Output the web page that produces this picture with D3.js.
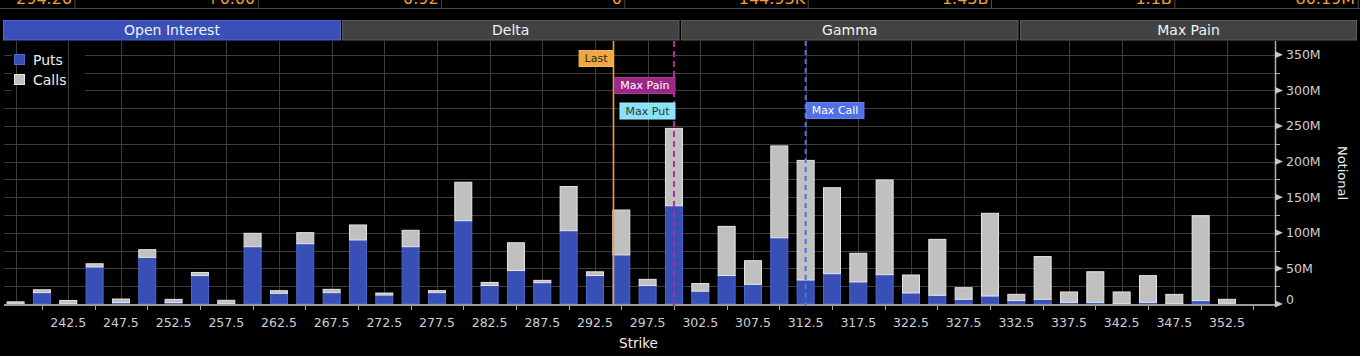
<!DOCTYPE html>
<html>
<head>
<meta charset="utf-8">
<script src="https://cdn.jsdelivr.net/npm/d3@7"></script>
<style>
  html, body { margin: 0; padding: 0; background: #000; }
  svg { display: block; }
  text { font-family: "DejaVu Sans", sans-serif; }
</style>
</head>
<body>
<svg id="chart" width="1360" height="356"></svg>
<script>
// ---------- data ----------
const strikes = [237.5, 240, 242.5, 245, 247.5, 250, 252.5, 255, 257.5, 260, 262.5, 265, 267.5, 270, 272.5, 275, 277.5, 280, 282.5, 285, 287.5, 290, 292.5, 295, 297.5, 300, 302.5, 305, 307.5, 310, 312.5, 315, 317.5, 320, 322.5, 325, 327.5, 330, 332.5, 335, 337.5, 340, 342.5, 345, 347.5, 350, 352.5];
const puts = [1, 16, 0.5, 52, 2, 65.5, 2, 40, 0.5, 80.5, 15, 84.7, 16, 90, 12.6, 80.5, 16, 117, 26, 47, 30, 103, 40, 69, 26, 138, 18, 40, 27.6, 93, 33.7, 42.6, 31, 41.2, 15.5, 12.2, 6.6, 11.2, 4.7, 6.6, 2.3, 2.3, 0.5, 2.3, 0.5, 4.7, 1];
const calls = [2, 4, 4.5, 4.5, 5, 10.8, 4.5, 4.3, 4.7, 18.8, 3.7, 15.5, 4.6, 21, 2.8, 23, 2.8, 54, 4.3, 39, 3.2, 62, 5.2, 63, 8.6, 108.7, 10.7, 69, 33.2, 129, 168, 120.7, 40.2, 133, 25.2, 78.6, 16.3, 116.2, 8.9, 60, 14.6, 43, 16.4, 37.5, 13, 119.3, 5.6];
const xTickLabels = [242.5, 247.5, 252.5, 257.5, 262.5, 267.5, 272.5, 277.5, 282.5, 287.5, 292.5, 297.5, 302.5, 307.5, 312.5, 317.5, 322.5, 327.5, 332.5, 337.5, 342.5, 347.5, 352.5];
const xMinorTicks = [240, 245, 250, 255, 260, 265, 270, 275, 280, 285, 290, 295, 300, 305, 310, 315, 320, 325, 330, 335, 340, 345, 350, 355];
const yTickLabels = [0, 50, 100, 150, 200, 250, 300, 350];
const headerValues = ["294.26", "+0.00", "0.92", "0", "144.93K", "1.43B", "1.1B", "80.19M"];
const tabs = ["Open Interest", "Delta", "Gamma", "Max Pain"];
const seriesNames = ["Puts", "Calls"];
const markers = [
  { name: "Last", value: 294.26 },
  { name: "Max Pain", value: 300 },
  { name: "Max Put", value: 300 },
  { name: "Max Call", value: 312.5 }
];

// ---------- layout ----------
const W = 1360, H = 356;
const plotLeft = 4, plotRight = 1275, plotTop = 41, baseY = 304;
const svg = d3.select("#chart");
svg.append("rect").attr("width", W).attr("height", H).attr("fill", "#000");

const x = d3.scaleLinear().domain([237.5, 352.5]).range([15.6, 1227]);
const y = d3.scaleLinear().domain([0, 350]).range([baseY, 54.8]);
const barW = 18;

const colPuts = "#3850b6", colPutsEdge = "#4f68d0";
const colCalls = "#c0c0c0", colCallsEdge = "#e6e6e6";

// ---------- header strip ----------
const hdr = svg.append("g");
const sepX = d3.range(headerValues.length).map(i => 75 + i * 183.3);
hdr.append("line").attr("x1", 0).attr("x2", W).attr("y1", 8.5).attr("y2", 8.5)
  .attr("stroke", "#4a4a4a").attr("stroke-width", 1);
hdr.selectAll("line.sep").data(sepX).join("line").attr("class", "sep")
  .attr("x1", d => d).attr("x2", d => d).attr("y1", 0).attr("y2", 8.5)
  .attr("stroke", "#4a4a4a");
hdr.selectAll("text").data(headerValues).join("text")
  .attr("x", (d, i) => sepX[i] - 3).attr("y", 4)
  .attr("text-anchor", "end").attr("font-size", 16).attr("fill", "#f0a030")
  .text(d => d);

// ---------- tabs ----------
const tabX = [[3, 341], [342, 679.5], [681, 1018.5], [1020, 1357]];
const tg = svg.append("g");
tabs.forEach((t, i) => {
  const [a, b] = tabX[i];
  tg.append("rect").attr("x", a + 0.5).attr("y", 20.5).attr("width", b - a - 1).attr("height", 19.5)
    .attr("fill", i === 0 ? "#3a4fb8" : "#424242")
    .attr("stroke", i === 0 ? "#5266c4" : "#5a5a5a").attr("stroke-width", 1);
  tg.append("text").attr("x", (a + b) / 2).attr("y", 30.5).attr("dy", "0.35em")
    .attr("text-anchor", "middle").attr("font-size", 14).attr("fill", "#f2f2f2").text(t);
});

// ---------- grid ----------
const gridCol = "#3d3d3d";
const hGrid = d3.range(25, 351, 25);
svg.append("g").selectAll("line").data(hGrid).join("line")
  .attr("x1", plotLeft).attr("x2", plotRight)
  .attr("y1", d => Math.round(y(d)) + 0.5).attr("y2", d => Math.round(y(d)) + 0.5)
  .attr("stroke", gridCol).attr("stroke-width", 1);

// legend background hides horizontal grid
svg.append("rect").attr("x", 12).attr("y", 48).attr("width", 73).attr("height", 44).attr("fill", "#000");

const vGrid = d3.range(237.5, 353, 5);
svg.append("g").selectAll("line").data(vGrid).join("line")
  .attr("x1", d => Math.round(x(d)) + 0.5).attr("x2", d => Math.round(x(d)) + 0.5)
  .attr("y1", plotTop).attr("y2", baseY)
  .attr("stroke", gridCol).attr("stroke-width", 1);

// ---------- bars ----------
const data = strikes.map((s, i) => ({ s, p: puts[i], c: calls[i] }));
const bars = svg.append("g");
bars.selectAll("rect.put").data(data).join("rect").attr("class", "put")
  .attr("x", d => x(d.s) - barW / 2 + 0.5).attr("width", barW - 1)
  .attr("y", d => y(d.p)).attr("height", d => y(0) - y(d.p))
  .attr("fill", colPuts).attr("stroke", colPutsEdge).attr("stroke-width", 1);
bars.selectAll("rect.call").data(data).join("rect").attr("class", "call")
  .attr("x", d => x(d.s) - barW / 2 + 0.5).attr("width", barW - 1)
  .attr("y", d => y(d.p + d.c)).attr("height", d => y(d.p) - y(d.p + d.c))
  .attr("fill", colCalls).attr("stroke", colCallsEdge).attr("stroke-width", 1);

// ---------- x axis ----------
const xa = svg.append("g");
xa.append("line").attr("x1", plotLeft).attr("x2", plotRight).attr("y1", 305).attr("y2", 305)
  .attr("stroke", "#9a9a9a").attr("stroke-width", 2);
xa.selectAll("line.tk").data(xMinorTicks).join("line").attr("class", "tk")
  .attr("x1", d => Math.round(x(d)) + 0.5).attr("x2", d => Math.round(x(d)) + 0.5)
  .attr("y1", 306).attr("y2", 310).attr("stroke", "#aaa");
xa.selectAll("text").data(xTickLabels).join("text")
  .attr("x", d => x(d)).attr("y", 323).attr("dy", "0.35em")
  .attr("text-anchor", "middle").attr("font-size", 12.5).attr("fill", "#cfcfcf")
  .text(d => d3.format(".1f")(d));
svg.append("text").attr("x", 638.5).attr("y", 343).attr("dy", "0.35em")
  .attr("text-anchor", "middle").attr("font-size", 13.5).attr("fill", "#f0f0f0").text("Strike");

// ---------- y axis ----------
const ya = svg.append("g");
ya.append("line").attr("x1", plotRight + 0.5).attr("x2", plotRight + 0.5).attr("y1", plotTop).attr("y2", 306)
  .attr("stroke", "#b0b0b0").attr("stroke-width", 1.5);
const yMinor = d3.range(25, 351, 50);
ya.selectAll("line.mn").data(yMinor).join("line").attr("class", "mn")
  .attr("x1", plotRight).attr("x2", plotRight + 5)
  .attr("y1", d => Math.round(y(d)) + 0.5).attr("y2", d => Math.round(y(d)) + 0.5)
  .attr("stroke", "#b0b0b0");
ya.selectAll("path.tri").data(yTickLabels).join("path").attr("class", "tri")
  .attr("d", d => { const yy = y(d); return `M${plotRight},${yy - 3.5}L${plotRight + 8},${yy}L${plotRight},${yy + 3.5}Z`; })
  .attr("fill", "#c8c8c8");
ya.selectAll("text").data(yTickLabels).join("text")
  .attr("x", plotRight + 11).attr("y", d => y(d) - (d === 0 ? 4 : 0)).attr("dy", "0.35em")
  .attr("font-size", 12.5).attr("fill", "#d0d0d0")
  .text(d => d === 0 ? "0" : d + "M");
svg.append("text").attr("transform", "translate(1343,173) rotate(90)")
  .attr("text-anchor", "middle").attr("dy", "0.35em").attr("font-size", 13).attr("fill", "#f0f0f0")
  .text("Notional");

// ---------- legend ----------
const lg = svg.append("g");
const legCols = [colPuts, colCalls];
const legEdge = [colPutsEdge, colCallsEdge];
seriesNames.forEach((n, i) => {
  const cy = 60 + i * 20;
  lg.append("rect").attr("x", 14.5).attr("y", cy - 5.5).attr("width", 10).attr("height", 10)
    .attr("fill", legCols[i]).attr("stroke", legEdge[i]);
  lg.append("text").attr("x", 33).attr("y", cy).attr("dy", "0.35em")
    .attr("font-size", 14).attr("fill", "#ededed").text(n);
});

// ---------- markers ----------
const mk = svg.append("g");
const mLast = markers[0], mPain = markers[1], mPut = markers[2], mCall = markers[3];
mk.append("line").attr("x1", x(mLast.value)).attr("x2", x(mLast.value)).attr("y1", plotTop).attr("y2", 306)
  .attr("stroke", "#f0a030").attr("stroke-width", 1.6);
mk.append("line").attr("x1", x(mPain.value)).attr("x2", x(mPain.value)).attr("y1", plotTop).attr("y2", 306)
  .attr("stroke", "#b02c98").attr("stroke-width", 2).attr("stroke-dasharray", "6,4");
mk.append("line").attr("x1", x(mCall.value)).attr("x2", x(mCall.value)).attr("y1", plotTop).attr("y2", 306)
  .attr("stroke", "#4a6ff0").attr("stroke-width", 2).attr("stroke-dasharray", "5,4");

function tag(m, top, side, fill, edge, txtCol, extra) {
  const g = mk.append("g");
  const t = g.append("text").attr("font-size", 11).attr("fill", txtCol)
    .attr("y", top + 8.3).attr("dy", "0.35em").attr("text-anchor", "middle").text(m.name);
  const tw = t.node().getComputedTextLength();
  const w = tw + 12;
  const lx = x(m.value);
  const x0 = side === "left" ? lx - w + (extra || 0) : lx;
  g.insert("rect", "text").attr("x", x0 + 0.5).attr("y", top + 0.5).attr("width", w - 1).attr("height", 16)
    .attr("fill", fill).attr("stroke", edge);
  t.attr("x", x0 + w / 2);
}
tag(mLast, 50, "left", "#f0a840", "#f5b85a", "#2a2a2a", 0);
tag(mPain, 77, "left", "#9a2888", "#b03a9c", "#ffffff", 1.5);
tag(mPut, 102.5, "left", "#88e2fa", "#a0eafc", "#333333", 1.5);
tag(mCall, 102, "right", "#5070e6", "#6a86ee", "#ffffff", 0);
</script>
</body>
</html>
